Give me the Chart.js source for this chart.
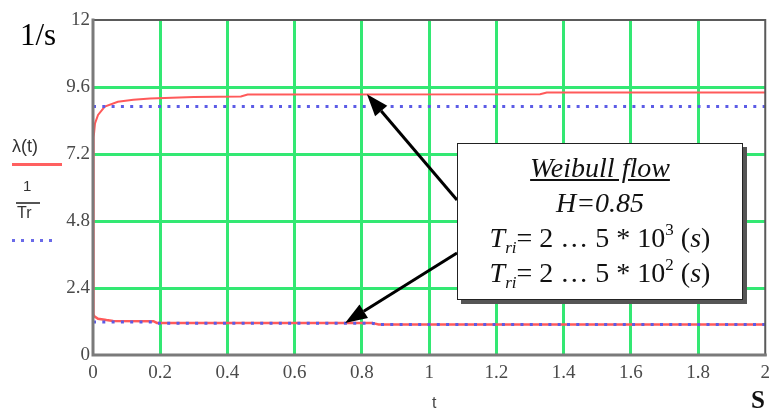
<!DOCTYPE html>
<html>
<head>
<meta charset="utf-8">
<script src="https://cdn.jsdelivr.net/npm/chart.js@4"></script>
<style>
  html, body { margin:0; padding:0; background:#fff; }
  #wrap { position:relative; width:777px; height:414px; overflow:hidden; }
  canvas { position:absolute; left:0; top:0; }
  .lbl { position:absolute; white-space:nowrap; }
  #box { position:absolute; left:457px; top:143px; width:284px; height:155px; background:#fff;
         border:1.5px solid #222; box-shadow:4px 4px 0 #555; text-align:center;
         font-family:"Liberation Serif","DejaVu Serif",serif; font-size:28px; line-height:35px; color:#111; }
  #box .inner { padding-top:6px; }
  sub, sup { font-size:17px; line-height:0; }
  sub { vertical-align:-6px; }
  sup { vertical-align:12px; }
</style>
</head>
<body>
<div id="wrap">
  <canvas id="c" width="777" height="414"></canvas>
  <div class="lbl" style="left:20px;top:17px;font-family:'Liberation Serif',serif;font-size:31px;color:#000;">1/s</div>
  <div class="lbl" style="left:751px;top:386px;font-family:'Liberation Serif',serif;font-size:25px;font-weight:bold;color:#111;">S</div>
  <div class="lbl" style="left:432px;top:394px;font-family:'Liberation Sans',sans-serif;font-size:16px;color:#444;">t</div>
  <div class="lbl" style="left:12px;top:136px;font-family:'Liberation Sans',sans-serif;font-size:18px;color:#333;">λ(t)</div>
  <div style="position:absolute;left:12px;top:163px;width:50px;height:3px;background:#ff6060;"></div>
  <div class="lbl" style="left:23px;top:177px;font-family:'Liberation Sans',sans-serif;font-size:15px;color:#333;">1</div>
  <div style="position:absolute;left:16px;top:202px;width:24px;height:2px;background:#555;"></div>
  <div class="lbl" style="left:17px;top:204px;font-family:'Liberation Sans',sans-serif;font-size:16px;color:#333;">Tr</div>
  <div style="position:absolute;left:12px;top:239px;width:46px;height:3px;background:repeating-linear-gradient(90deg,#6a6ae8 0 3px,transparent 3px 9.3px);"></div>
  <div id="box"><div class="inner">
    <div><i><u>Weibull flow</u></i></div>
    <div><i>H=0.85</i></div>
    <div><i>T<sub>ri</sub></i>= 2 … 5 * 10<sup>3</sup> (<i>s</i>)</div>
    <div><i>T<sub>ri</sub></i>= 2 … 5 * 10<sup>2</sup> (<i>s</i>)</div>
  </div></div>
</div>
<script>
// ---- data ----
const xTicks = [0, 0.2, 0.4, 0.6, 0.8, 1, 1.2, 1.4, 1.6, 1.8, 2];
const xTickLabels = ['0','0.2','0.4','0.6','0.8','1','1.2','1.4','1.6','1.8','2'];
const yTicks = [0, 2.4, 4.8, 7.2, 9.6, 12];
const yTickLabels = ['0','2.4','4.8','7.2','9.6','12'];

// λ(t), T_ri = 2…5·10^2 s (upper curve)
const tUpper      = [0,    0.002, 0.006, 0.015, 0.035, 0.074, 0.12, 0.17, 0.3,  0.44, 0.46, 1.33, 1.35, 2.0];
const lambdaUpper = [1.45, 7.8,   8.3,   8.6,   8.9,   9.07,  9.14, 9.19, 9.24, 9.26, 9.33, 9.34, 9.4,  9.4];
// 1/Tr upper
const tUpperRef   = [0, 2.0];
const invTrUpper  = [8.9, 8.9];

// λ(t), T_ri = 2…5·10^3 s (lower curve)
const tLower      = [0,    0.005, 0.015, 0.04, 0.06, 0.18, 0.19, 0.83, 0.85, 2.0];
const lambdaLower = [1.45, 1.38,  1.3,   1.25, 1.22, 1.21, 1.15, 1.15, 1.09, 1.09];
// 1/Tr lower
const tLowerRef   = [0,    0.18, 0.19, 0.83, 0.85, 2.0];
const invTrLower  = [1.18, 1.18, 1.14, 1.14, 1.09, 1.09];

// arrow tips (data coords, on the curves)
const arrowTips = [[0.815, 9.34], [0.75, 1.15]];

const pts = (xs, ys) => xs.map((x, i) => ({x, y: ys[i]}));

const framePlugin = {
  id: 'frame',
  afterDatasetsDraw(chart) {
    const {ctx, chartArea: a} = chart;
    ctx.save();
    ctx.lineCap = 'square';
    ctx.strokeStyle = '#5a5a5a'; ctx.lineWidth = 2;
    ctx.beginPath(); ctx.moveTo(a.left, a.top); ctx.lineTo(a.right, a.top); ctx.lineTo(a.right, a.bottom); ctx.stroke();
    ctx.strokeStyle = '#7a7a7a'; ctx.lineWidth = 3;
    ctx.beginPath(); ctx.moveTo(a.left, a.top); ctx.lineTo(a.left, a.bottom); ctx.lineTo(a.right, a.bottom); ctx.stroke();
    ctx.restore();
  },
  afterDraw(chart) {
    const {ctx} = chart;
    const xs = chart.scales.x, ys = chart.scales.y;
    const tails = [[457, 200], [457, 253]];
    ctx.save();
    ctx.strokeStyle = '#000'; ctx.fillStyle = '#000'; ctx.lineWidth = 3;
    arrowTips.forEach((tp, i) => {
      const tx = xs.getPixelForValue(tp[0]), ty = ys.getPixelForValue(tp[1]);
      const [sx, sy] = tails[i];
      const ang = Math.atan2(ty - sy, tx - sx);
      const L = 22, W = 8;
      const bx = tx - L * Math.cos(ang), by = ty - L * Math.sin(ang);
      ctx.beginPath(); ctx.moveTo(sx, sy); ctx.lineTo(bx, by); ctx.stroke();
      ctx.beginPath();
      ctx.moveTo(tx, ty);
      ctx.lineTo(bx + W * Math.sin(ang), by - W * Math.cos(ang));
      ctx.lineTo(bx - W * Math.sin(ang), by + W * Math.cos(ang));
      ctx.closePath(); ctx.fill();
    });
    ctx.restore();
  }
};

const tickFont = {family: "'Liberation Serif', serif", size: 19};
const gridColor = (c) => (c.index === 0 || c.index === c.chart.scales[c.scale.id].ticks.length - 1) ? 'rgba(0,0,0,0)' : '#33e873';

new Chart(document.getElementById('c'), {
  type: 'line',
  data: {
    datasets: [
      {data: pts(tUpper, lambdaUpper), borderColor: '#ff5a5a', borderWidth: 2, pointRadius: 0, tension: 0, order: 2},
      {data: pts(tLower, lambdaLower), borderColor: '#ff5a5a', borderWidth: 2.5, pointRadius: 0, tension: 0, order: 2},
      {data: pts(tUpperRef, invTrUpper), borderColor: '#5c5ce6', borderWidth: 3, borderDash: [3, 6.3], pointRadius: 0, tension: 0, order: 1},
      {data: pts(tLowerRef, invTrLower), borderColor: '#5c5ce6', borderWidth: 3, borderDash: [3, 6.3], pointRadius: 0, tension: 0, order: 1}
    ]
  },
  options: {
    responsive: false, animation: false,
    layout: {padding: {top: 20, right: 3, left: 0, bottom: 0}},
    plugins: {legend: {display: false}, tooltip: {enabled: false}},
    scales: {
      x: {
        type: 'linear', min: 0, max: 2,
        afterBuildTicks: (s) => { s.ticks = xTicks.map(v => ({value: v})); },
        afterFit: (s) => { s.height = 59; },
        ticks: {callback: (v, i) => xTickLabels[i], font: tickFont, color: '#4a4a4a', padding: 7, maxRotation: 0, autoSkip: false},
        grid: {color: gridColor, lineWidth: 3, drawTicks: false},
        border: {display: false}
      },
      y: {
        type: 'linear', min: 0, max: 12,
        afterBuildTicks: (s) => { s.ticks = yTicks.map(v => ({value: v})); },
        afterFit: (s) => { s.width = 93; },
        ticks: {callback: (v, i) => yTickLabels[i], font: tickFont, color: '#4a4a4a', padding: 3, autoSkip: false},
        grid: {color: gridColor, lineWidth: 3, drawTicks: false},
        border: {display: false}
      }
    }
  },
  plugins: [framePlugin]
});
</script>
</body>
</html>
